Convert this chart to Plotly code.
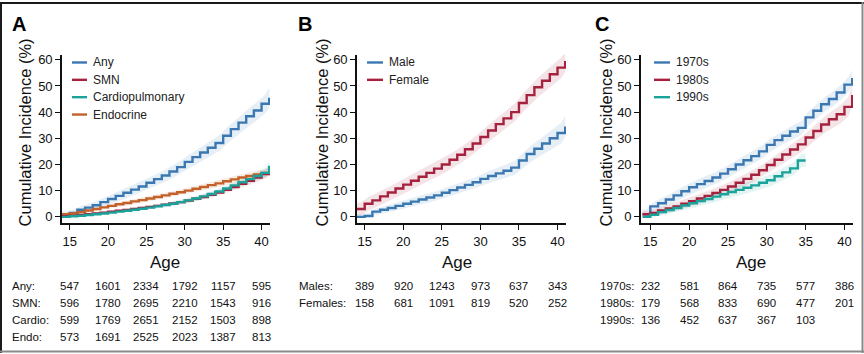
import plotly.graph_objects as go

W, H = 864, 354
ages = list(range(14, 42))

# ---------------- Panel A ----------------
a_any = [0.8, 1.5, 2.7, 3.5, 4.4, 5.6, 6.8, 8.0, 9.2, 10.4, 11.6, 13.0, 14.4, 15.8, 17.3, 19.0,
         21.0, 22.8, 24.6, 26.4, 28.2, 31.0, 33.5, 36.0, 38.4, 40.6, 43.2, 45.5]
a_any_hw = [1.2, 1.3, 1.4, 1.5, 1.6, 1.7, 1.8, 1.9, 2.0, 2.0, 2.1, 2.1, 2.2, 2.3, 2.4, 2.5,
            2.6, 2.7, 2.8, 2.9, 3.0, 3.1, 3.2, 3.3, 3.4, 3.5, 3.6, 3.8]
a_smn = [0.2, 0.4, 0.7, 1.0, 1.3, 1.6, 2.0, 2.3, 2.6, 3.0, 3.4, 3.8, 4.2, 4.6, 5.1, 5.6,
         6.2, 6.9, 7.6, 8.4, 9.3, 10.3, 11.4, 12.6, 13.8, 15.0, 16.3, 17.5]
a_smn_hw = [0.3, 0.3, 0.4, 0.4, 0.4, 0.5, 0.5, 0.5, 0.6, 0.6, 0.6, 0.7, 0.7, 0.7, 0.8, 0.8,
            0.9, 0.9, 1.0, 1.0, 1.1, 1.2, 1.3, 1.4, 1.5, 1.6, 1.7, 1.8]
a_cardio = [0.0, 0.2, 0.4, 0.7, 1.0, 1.3, 1.6, 2.0, 2.3, 2.7, 3.1, 3.5, 4.0, 4.5, 5.0, 5.6,
            6.3, 7.0, 7.8, 8.7, 9.7, 10.8, 12.0, 13.2, 14.4, 15.6, 16.8, 19.5]
a_cardio_hw = [0.3, 0.3, 0.4, 0.4, 0.4, 0.5, 0.5, 0.5, 0.6, 0.6, 0.6, 0.7, 0.7, 0.7, 0.8, 0.8,
               0.9, 0.9, 1.0, 1.0, 1.1, 1.2, 1.3, 1.4, 1.5, 1.7, 1.9, 2.1]
a_endo = [1.0, 1.3, 1.8, 2.4, 3.0, 3.6, 4.2, 4.8, 5.3, 5.9, 6.4, 7.0, 7.6, 8.2, 8.8, 9.4,
          10.0, 10.7, 11.4, 12.1, 12.8, 13.6, 14.3, 15.0, 15.6, 16.2, 16.8, 17.5]
a_endo_hw = [0.6, 0.6, 0.7, 0.7, 0.8, 0.8, 0.8, 0.9, 0.9, 0.9, 1.0, 1.0, 1.0, 1.1, 1.1, 1.1,
             1.2, 1.2, 1.2, 1.3, 1.3, 1.3, 1.4, 1.4, 1.5, 1.5, 1.6, 1.6]

# ---------------- Panel B ----------------
b_male = [0.0, 0.3, 2.0, 2.7, 3.4, 4.2, 5.0, 5.8, 6.6, 7.4, 8.2, 9.2, 10.2, 11.2, 12.2, 13.2,
          14.5, 15.6, 16.6, 17.6, 18.8, 21.5, 24.0, 26.0, 28.0, 30.0, 32.0, 34.5]
b_male_hw = [1.0, 1.1, 1.2, 1.3, 1.4, 1.5, 1.6, 1.7, 1.7, 1.8, 1.8, 1.9, 1.9, 2.0, 2.0, 2.1,
             2.2, 2.3, 2.4, 2.5, 2.7, 2.9, 3.1, 3.3, 3.5, 3.7, 3.9, 4.1]
b_female = [3.0, 5.0, 6.3, 7.8, 9.3, 10.8, 12.3, 13.8, 15.3, 16.8, 18.4, 20.0, 21.8, 23.7, 25.8, 28.0,
            30.5, 33.0, 35.4, 37.6, 40.0, 43.5, 46.5, 49.5, 52.0, 54.5, 57.0, 59.5]
b_female_hw = [2.5, 2.6, 2.6, 2.7, 2.7, 2.8, 2.8, 2.8, 2.9, 2.9, 2.9, 3.0, 3.0, 3.0, 3.1, 3.1,
               3.2, 3.2, 3.3, 3.3, 3.4, 3.5, 3.6, 3.7, 3.8, 3.9, 4.0, 4.1]

# ---------------- Panel C ----------------
c_1970 = [1.0, 4.0, 5.2, 6.6, 8.2, 9.8, 11.3, 12.5, 13.7, 15.0, 16.5, 18.2, 20.0, 21.6, 23.2, 25.0,
          27.5, 29.3, 31.0, 32.6, 34.0, 38.0, 40.5, 43.0, 45.0, 47.5, 50.5, 53.0]
c_1970_hw = [1.8, 1.9, 2.0, 2.0, 2.1, 2.1, 2.2, 2.2, 2.2, 2.3, 2.3, 2.3, 2.4, 2.4, 2.4, 2.5,
             2.5, 2.5, 2.6, 2.6, 2.6, 2.7, 2.7, 2.8, 2.8, 2.9, 2.9, 3.0]
c_1980 = [1.0, 1.5, 2.4, 3.2, 4.0, 5.0, 6.0, 7.0, 8.0, 9.1, 10.3, 11.6, 13.0, 14.5, 16.1, 17.8,
          19.8, 21.8, 23.8, 25.7, 27.7, 30.3, 32.8, 35.3, 37.3, 39.2, 42.0, 46.5]
c_1980_hw = [1.2, 1.3, 1.4, 1.5, 1.6, 1.7, 1.8, 1.9, 2.0, 2.0, 2.1, 2.1, 2.2, 2.2, 2.3, 2.3,
             2.4, 2.5, 2.6, 2.7, 2.8, 2.9, 3.0, 3.1, 3.3, 3.5, 3.7, 4.0]
ages_1990 = list(range(14, 36))
c_1990 = [0.0, 0.8, 1.8, 2.6, 3.4, 4.3, 5.2, 6.0, 6.8, 7.7, 8.6, 9.5, 10.3, 11.1, 12.0, 13.0,
          14.0, 15.5, 17.0, 18.5, 21.5, 21.5]
c_1990_hw = [1.0, 1.1, 1.2, 1.3, 1.4, 1.5, 1.6, 1.7, 1.8, 1.9, 2.0, 2.0, 2.1, 2.1, 2.2, 2.2,
             2.3, 2.3, 2.4, 2.4, 2.5, 2.5]

# ---------------- At-risk tables ----------------
tick_ages = [15, 20, 25, 30, 35, 40]
tab_a_labels = ["Any:", "SMN:", "Cardio:", "Endo:"]
tab_a = [[547, 1601, 2334, 1792, 1157, 595],
         [596, 1780, 2695, 2210, 1543, 916],
         [599, 1769, 2651, 2152, 1503, 898],
         [573, 1691, 2525, 2023, 1387, 813]]
tab_b_labels = ["Males:", "Females:"]
tab_b = [[389, 920, 1243, 973, 637, 343],
         [158, 681, 1091, 819, 520, 252]]
tab_c_labels = ["1970s:", "1980s:", "1990s:"]
tab_c = [[232, 581, 864, 735, 577, 386],
         [179, 568, 833, 690, 477, 201],
         [136, 452, 637, 367, 103, None]]

BLUE = "#3B78B2"
RED = "#A5213D"
TEAL = "#1AA39A"
ORANGE = "#C2612A"

def rgba(hexc, a):
    h = hexc.lstrip("#")
    return "rgba(%d,%d,%d,%s)" % (int(h[0:2], 16), int(h[2:4], 16), int(h[4:6], 16), a)

REG = "Liberation Sans, Arial, sans-serif"

def px(x):
    return x / W

def py(y):
    return 1 - y / H

fig = go.Figure()

def add_series(ax, ag, vals, hw, color):
    xs = "x" if ax == 1 else "x%d" % ax
    ys = "y" if ax == 1 else "y%d" % ax
    bx = [ag[0]] + [a + 0.5 for a in ag[:-1]] + [ag[-1]]
    bv = [vals[0]] + vals[:-1] + [vals[-1]]
    bh = [hw[0]] + hw[:-1] + [hw[-1]]
    up = [v + h for v, h in zip(bv, bh)]
    lo = [max(0.0, v - h) for v, h in zip(bv, bh)]
    fig.add_trace(go.Scatter(x=bx + bx[::-1], y=up + lo[::-1], fill="toself",
                             fillcolor=rgba(color, 0.12), line=dict(width=0),
                             mode="lines", hoverinfo="skip", showlegend=False,
                             xaxis=xs, yaxis=ys))
    return (ag, vals, color, xs, ys)

lines = []
lines.append(add_series(1, ages, a_any, a_any_hw, BLUE))
lines.append(add_series(1, ages, a_endo, a_endo_hw, ORANGE))
lines.append(add_series(1, ages, a_smn, a_smn_hw, RED))
lines.append(add_series(1, ages, a_cardio, a_cardio_hw, TEAL))
lines.append(add_series(2, ages, b_male, b_male_hw, BLUE))
lines.append(add_series(2, ages, b_female, b_female_hw, RED))
lines.append(add_series(3, ages, c_1970, c_1970_hw, BLUE))
lines.append(add_series(3, ages, c_1980, c_1980_hw, RED))
lines.append(add_series(3, ages_1990, c_1990, c_1990_hw, TEAL))

for ag, vals, color, xs, ys in lines:
    fig.add_trace(go.Scatter(x=ag, y=vals, mode="lines", line=dict(color=color, width=2.4, shape="hv"),
                             showlegend=False, xaxis=xs, yaxis=ys))

# axes
doms = [(62, 270, [14.0, 41.1]), (357, 566, [14.0, 41.1]), (641, 853, [13.8, 41.1])]
ydom = [py(223), py(53)]
for i, (l, r, xr) in enumerate(doms, start=1):
    common = dict(showline=True, linecolor="#111", linewidth=1.6, ticks="outside", ticklen=5,
                  tickwidth=1.4, tickcolor="#111", showgrid=False, zeroline=False,
                  tickfont=dict(family=REG, size=13, color="#111"))
    xa = dict(common, domain=[px(l), px(r)], range=xr, tickvals=tick_ages,
              anchor="y" if i == 1 else "y%d" % i)
    ya = dict(common, domain=ydom, range=[-2.4, 62], tickvals=[0, 10, 20, 30, 40, 50, 60],
              anchor="x" if i == 1 else "x%d" % i)
    fig.update_layout(**{("xaxis" if i == 1 else "xaxis%d" % i): xa,
                         ("yaxis" if i == 1 else "yaxis%d" % i): ya})

ann = []
shapes = []
# panel letters
for letter, x in [("A", 19), ("B", 305), ("C", 602)]:
    ann.append(dict(text="<b>%s</b>" % letter, x=px(x), y=py(22), xref="paper", yref="paper",
                    showarrow=False, font=dict(family=REG, size=20, color="#000"),
                    xanchor="center", yanchor="middle"))
# y titles
for x in [25, 322, 606]:
    ann.append(dict(text="Cumulative Incidence (%)", x=px(x), y=py(131.5), xref="paper", yref="paper",
                    showarrow=False, textangle=-90, font=dict(family=REG, size=16.5, color="#111"),
                    xanchor="center", yanchor="middle"))
# x titles
for x in [165, 457, 751]:
    ann.append(dict(text="Age", x=px(x), y=py(263), xref="paper", yref="paper", showarrow=False,
                    font=dict(family=REG, size=17, color="#111"), xanchor="center", yanchor="middle"))

# legends (drawn manually)
def legend(entries, lx0, lx1, tx, ys):
    for (name, color), y in zip(entries, ys):
        shapes.append(dict(type="line", xref="paper", yref="paper", x0=px(lx0), x1=px(lx1),
                           y0=py(y), y1=py(y), line=dict(color=color, width=2.4)))
        ann.append(dict(text=name, x=px(tx), y=py(y), xref="paper", yref="paper", showarrow=False,
                        font=dict(family=REG, size=12, color="#222"), xanchor="left", yanchor="middle"))

legend([("Any", BLUE), ("SMN", RED), ("Cardiopulmonary", TEAL), ("Endocrine", ORANGE)],
       72, 87, 91, [61, 78.5, 96, 113.5])
legend([("Male", BLUE), ("Female", RED)], 367, 383, 387, [61, 78.5])
legend([("1970s", BLUE), ("1980s", RED), ("1990s", TEAL)], 654, 670, 674, [61, 78.5, 96])

# tables
def table(labels, rows, lab_x, xref, ys):
    for lab, row, y in zip(labels, rows, ys):
        ann.append(dict(text=lab, x=px(lab_x), y=py(y), xref="paper", yref="paper", showarrow=False,
                        font=dict(family=REG, size=11.5, color="#111"), xanchor="left", yanchor="middle"))
        for a, v in zip(tick_ages, row):
            if v is None:
                continue
            ann.append(dict(text=str(v), x=a, y=py(y), xref=xref, yref="paper", showarrow=False,
                            font=dict(family=REG, size=11.5, color="#111"),
                            xanchor="center", yanchor="middle"))

table(tab_a_labels, tab_a, 10, "x", [286, 303.5, 321, 338])
table(tab_b_labels, tab_b, 297, "x2", [286, 303.5])
table(tab_c_labels, tab_c, 598, "x3", [286, 303.5, 321])

# frame
shapes += [
    dict(type="line", xref="paper", yref="paper", x0=0, x1=1, y0=py(1), y1=py(1), line=dict(color="#1a1a1a", width=2)),
    dict(type="line", xref="paper", yref="paper", x0=px(1), x1=px(1), y0=0, y1=1, line=dict(color="#1a1a1a", width=2)),
    dict(type="line", xref="paper", yref="paper", x0=0, x1=1, y0=py(352.5), y1=py(352.5), line=dict(color="#8a8a8a", width=2)),
    dict(type="line", xref="paper", yref="paper", x0=px(862.5), x1=px(862.5), y0=0, y1=1, line=dict(color="#8a8a8a", width=2)),
]

fig.update_layout(width=W, height=H, margin=dict(l=0, r=0, t=0, b=0), paper_bgcolor="white",
                  plot_bgcolor="white", showlegend=False, annotations=ann, shapes=shapes)

fig.write_html("out.html")
